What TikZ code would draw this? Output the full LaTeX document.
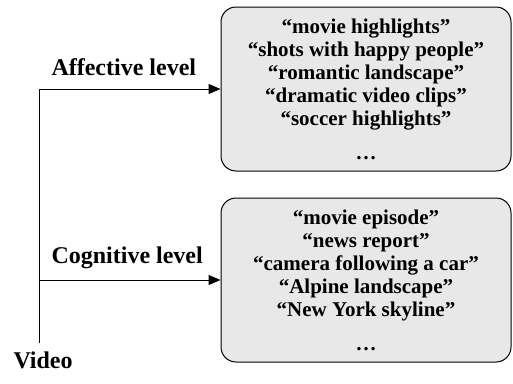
\documentclass[tikz,border=0pt]{standalone}
\usepackage{fontspec}
\setmainfont{Liberation Serif}
\usetikzlibrary{arrows.meta}
\definecolor{boxgray}{RGB}{232,232,232}
\begin{document}
\begin{tikzpicture}[x=1pt, y=1pt, line width=1pt,
	levelbox/.style={draw, fill=boxgray, rounded corners=15pt, minimum width=290pt, minimum height=164pt, align=center, inner sep=0pt, font=\fontsize{21}{23}\selectfont\bfseries},
	levellabel/.style={anchor=base west, inner sep=0pt, font=\fontsize{24}{26}\selectfont\bfseries},
	levelarrow/.style={-{Triangle[length=12pt, width=10pt]}}]
	\useasboundingbox (0,0) rectangle (513,-383);
	\node [levelbox] (aff) at (366,-89) {“movie highlights”\\ “shots with happy people”\\ “romantic landscape”\\ “dramatic video clips”\\ “soccer highlights”\\[11pt] \ldots};
	\node [levelbox] (cog) at (366,-280) {“movie episode”\\ “news report”\\ “camera following a car”\\ “Alpine landscape”\\ “New York skyline”\\[11pt] \ldots};
	\coordinate (src) at (39.5,-343);
	\draw [levelarrow] (src) |- (aff.west);
	\draw [levelarrow] (src) |- (cog.west);
	\node [levellabel] (afflabel) at (51,-75) {Affective level};
	\node [levellabel] (coglabel) at (51,-263) {Cognitive level};
	\node [levellabel] (video) at (13,-368) {Video};
	\end{tikzpicture}
\end{document}
